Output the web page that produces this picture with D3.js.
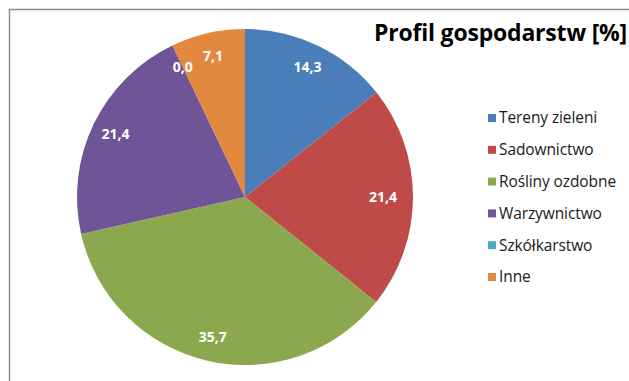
<!DOCTYPE html>
<html>
<head>
<meta charset="utf-8">
<script src="https://cdn.jsdelivr.net/npm/d3@7"></script>
<style>
  body { margin: 0; background: #fff; }
</style>
</head>
<body>
<div class="chart"></div>
<script>
var svgWidth = 629;
var svgHeight = 381;

// data
var categories = ["Tereny zieleni", "Sadownictwo", "Rośliny ozdobne", "Warzywnictwo", "Szkółkarstwo", "Inne"];
var values = [14.3, 21.4, 35.7, 21.4, 0.0, 7.1];
var colors = ["#4A7EBB", "#BE4B48", "#8BA84F", "#6F5597", "#4BACC6", "#E3883F"];

var cx = 245, cy = 197, radius = 168, labelRadius = 144;

var svg = d3.select(".chart")
    .append("svg")
    .attr("width", svgWidth)
    .attr("height", svgHeight);

// chart frame (only top and left edges visible)
svg.append("path")
    .attr("d", "M9.5," + svgHeight + "V9.5H" + svgWidth)
    .attr("fill", "none")
    .attr("stroke", "#8c8c8c")
    .attr("stroke-width", 1.5);

var pieData = d3.pie().sort(null).value(d => d)(values);

var arc = d3.arc().innerRadius(0).outerRadius(radius);
var labelArc = d3.arc().innerRadius(labelRadius).outerRadius(labelRadius);

var pieGroup = svg.append("g")
    .attr("transform", `translate(${cx}, ${cy})`);

pieGroup.selectAll("path")
    .data(pieData)
    .enter()
    .append("path")
    .attr("d", arc)
    .attr("fill", (d, i) => colors[i]);

pieGroup.selectAll("text")
    .data(pieData)
    .enter()
    .append("text")
    .attr("transform", function(d, i) {
        var c = labelArc.centroid(d);
        // red slice label sits a bit further in
        if (i == 1) c = [c[0] - 6, c[1]];
        return `translate(${c[0]}, ${c[1]})`;
    })
    .attr("text-anchor", "middle")
    .attr("dy", "0.35em")
    .style("fill", "white")
    .style("font", "bold 14px 'Open Sans', sans-serif")
    .text(d => d3.format(".1f")(d.value).replace(".", ","));

// title
svg.append("text")
    .attr("x", 627)
    .attr("y", 41)
    .attr("text-anchor", "end")
    .style("font", "bold 23px 'Open Sans', sans-serif")
    .style("letter-spacing", "-0.2px")
    .style("fill", "#000")
    .text("Profil gospodarstw [%]");

// legend
var legend = svg.append("g")
    .attr("transform", "translate(488, 118)");

var rows = legend.selectAll("g")
    .data(categories)
    .enter()
    .append("g")
    .attr("transform", (d, i) => `translate(0, ${i * 31.8})`);

rows.append("rect")
    .attr("x", 0)
    .attr("y", -4)
    .attr("width", 8)
    .attr("height", 8)
    .attr("fill", (d, i) => colors[i]);

rows.append("text")
    .attr("x", 11)
    .attr("dy", "0.35em")
    .style("font", "15.5px 'Open Sans', sans-serif")
    .style("letter-spacing", "-0.1px")
    .style("fill", "#1a1a1a")
    .text(d => d);
</script>
</body>
</html>
